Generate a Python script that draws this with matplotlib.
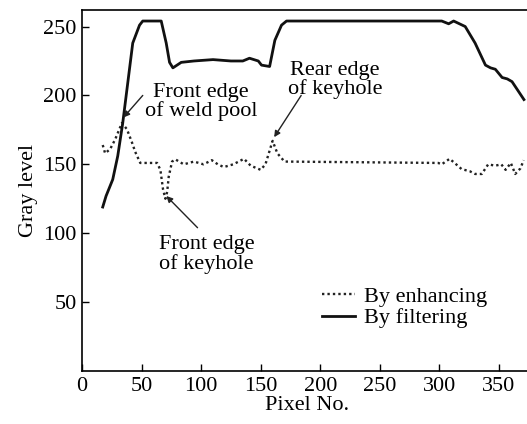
import matplotlib
matplotlib.use("Agg")
import matplotlib.pyplot as plt

plt.rcParams['font.family'] = ['Liberation Serif', 'DejaVu Serif']

# By filtering (solid)
filt_x = [17.4, 20.2, 25.8, 30, 34.2, 38.4, 42.6, 48.3, 51, 66.5, 70.7, 73.5, 76.3, 83.3, 94,
          110, 125, 135, 140.6, 148, 150.7, 157.5, 161.9, 167.5, 171.7, 240, 302, 307.8, 312,
          321.7, 330, 338.7, 343, 347, 352.7, 357, 361, 371]
filt_y = [119, 127, 139, 156, 180, 209, 238, 251, 254, 254, 238, 224, 220, 224, 225,
          226, 225, 225, 227, 225, 222, 221, 240, 251, 254, 254, 254, 252, 254,
          250, 238, 222, 220, 219, 213, 212, 210, 197]

# By enhancing (dotted)
enh_x = [17.4, 19.4, 23.6, 27.8, 33.5, 37.7, 41.9, 44.7, 48.9, 63, 65.8, 68, 70, 71.5, 72.8,
         75.6, 78.4, 85.4, 94, 102, 109, 114, 119, 127, 136, 141.6, 150, 154, 160, 164, 170,
         299, 302, 308.6, 312.8, 318.7, 325.5, 330, 335.6, 341, 346.9, 352, 355.6, 360,
         363.7, 368, 370.8]
enh_y = [164, 158, 161, 168, 180, 175.5, 166, 159, 151, 151, 146, 132, 125, 130, 141,
         152, 153.6, 150, 152, 150, 153, 150, 148, 150, 154, 149, 146, 150, 167, 158, 152,
         151, 150, 154, 151, 146.5, 145, 143, 143, 150, 149, 150, 146, 151,
         143, 147, 153]

xticks = [0, 50, 100, 150, 200, 250, 300, 350]
yticks = [50, 100, 150, 200, 250]

fig = plt.figure(figsize=(5.27, 4.24), dpi=100)
ax = fig.add_axes([82/527, 1 - 371/424, 1 - 82/527 + 0.01, (371 - 10)/424])

ax.plot(enh_x, enh_y, color='#222222', lw=1.7, linestyle=(0, (1, 1.3)), label='By enhancing')
ax.plot(filt_x, filt_y, color='#111111', lw=2.0, label='By filtering')

ax.set_xlim(0, 378)
ax.set_ylim(0, 262)
ax.set_xticks(xticks)
ax.set_yticks(yticks)
ax.tick_params(direction='in', length=5, width=1, labelsize=16, pad=4)
for s in ['left', 'bottom', 'top']:
    ax.spines[s].set_linewidth(1.2)
ax.spines['right'].set_visible(False)

ax.set_xlabel('Pixel No.', fontsize=16, labelpad=0)
ax.set_ylabel('Gray level', fontsize=16, labelpad=4)

fs = 16
arrow = dict(arrowstyle='-|>', color='#222222', lw=1.0, mutation_scale=9, shrinkA=0, shrinkB=0)
ax.text(100, 195.5, 'Front edge\nof weld pool', ha='center', va='center', fontsize=fs, linespacing=0.95)
ax.annotate('', xy=(34.8, 184), xytext=(51, 200), arrowprops=arrow)
ax.text(212.5, 211.5, 'Rear edge\nof keyhole', ha='center', va='center', fontsize=fs, linespacing=0.95)
ax.annotate('', xy=(161.3, 169.7), xytext=(184, 200), arrowprops=arrow)
ax.text(104.5, 84.5, 'Front edge\nof keyhole', ha='center', va='center', fontsize=fs, linespacing=0.95)
ax.annotate('', xy=(70.8, 127), xytext=(97, 104), arrowprops=arrow)

leg = ax.legend(loc='upper left', bbox_to_anchor=(0.532, 0.235), frameon=False, fontsize=fs,
                handlelength=1.5, handletextpad=0.4, labelspacing=0.05, borderpad=0,
                borderaxespad=0)

fig.savefig('out.png', dpi=100)
